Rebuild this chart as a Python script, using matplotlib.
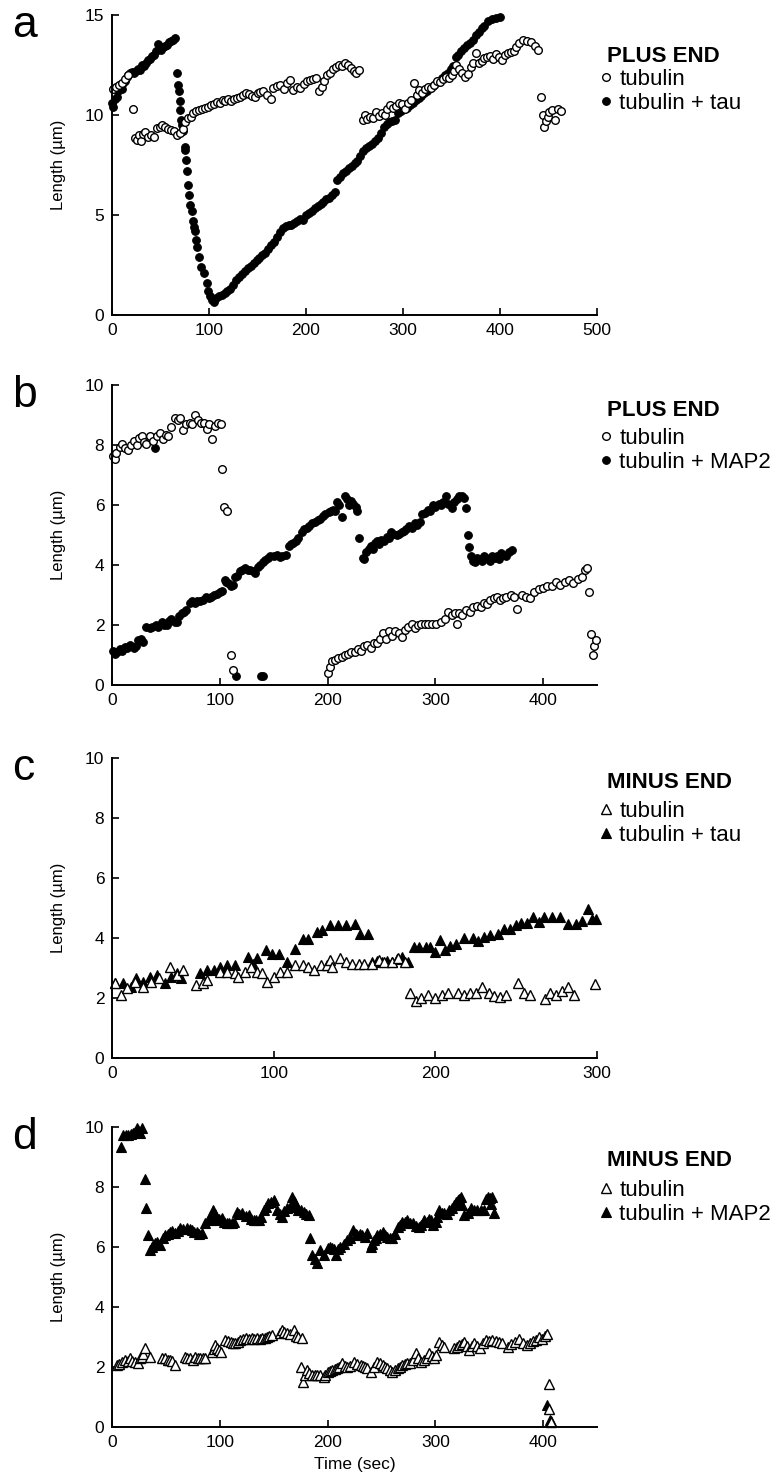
import matplotlib
matplotlib.use("Agg")
import matplotlib.pyplot as plt

plt.rcParams['font.family'] = ['Liberation Sans', 'DejaVu Sans']

# ---------------- panel a : plus end, tubulin vs tubulin + tau ----------------
a_tub_t = [1, 4, 7, 10, 13, 16, 22, 24, 26, 28, 30, 32, 34, 37, 40, 43, 46, 49, 52, 55,
           58, 61, 64, 67, 70, 73, 75, 78, 81, 84, 87, 90, 93, 96, 99, 102, 105, 108, 111, 114,
           117, 120, 123, 126, 129, 132, 135, 138, 141, 144, 147, 150, 153, 156, 160, 164, 166, 170, 173, 177,
           180, 184, 187, 191, 194, 198, 201, 204, 207, 210, 213, 216, 219, 222, 225, 228, 231, 234, 237, 240,
           243, 246, 249, 252, 255,
           259, 261, 263, 266, 269, 272, 275, 278, 281, 284, 287, 290, 293, 296, 299, 302, 305, 308, 311, 314,
           317, 320, 323, 326, 329, 332, 335, 338, 341, 344, 347, 350, 353, 355, 358, 361, 364, 367, 370, 372,
           375, 378, 381, 384, 387, 390, 393, 396, 399, 402, 405, 408, 411, 414, 417, 420, 424, 428, 432, 436,
           439,
           442, 444, 445, 447, 449, 451, 454, 457, 460, 463]
a_tub_L = [11.3, 11.4, 11.5, 11.6, 11.8, 12.0, 10.3, 8.85, 8.75, 9.0, 8.7, 9.05, 9.15, 8.9, 9.0, 8.9, 9.35, 9.4, 9.5, 9.4,
           9.3, 9.25, 9.2, 9.0, 9.1, 9.3, 9.65, 9.85, 9.9, 10.1, 10.2, 10.25, 10.3, 10.35, 10.4, 10.5, 10.55, 10.65, 10.6, 10.75,
           10.7, 10.8, 10.7, 10.8, 10.85, 10.9, 11.0, 11.1, 11.05, 10.95, 10.9, 11.1, 11.15, 11.2, 11.0, 10.8, 11.35, 11.45, 11.5, 11.3,
           11.6, 11.75, 11.25, 11.4, 11.35, 11.55, 11.7, 11.75, 11.8, 11.85, 11.2, 11.4, 11.7, 12.0, 12.1, 12.3, 12.4, 12.5, 12.45, 12.6,
           12.5, 12.35, 12.2, 12.1, 12.25,
           9.75, 10.0, 9.8, 9.9, 9.85, 10.15, 9.95, 10.1, 10.0, 10.3, 10.5, 10.35, 10.45, 10.6, 10.55, 10.3, 10.6, 10.75, 11.6, 11.0,
           11.25, 11.1, 11.3, 11.4, 11.35, 11.5, 11.7, 11.65, 11.8, 11.9, 11.85, 12.0, 12.2, 12.5, 12.3, 12.1, 11.9, 12.05, 12.4, 12.6,
           13.1, 12.6, 12.7, 12.85, 12.9, 12.95, 12.8, 13.05, 12.9, 12.75, 13.0, 13.1, 13.15, 13.2, 13.4, 13.6, 13.75, 13.7, 13.65, 13.45,
           13.25,
           10.9, 10.0, 9.4, 9.7, 9.9, 10.15, 10.25, 9.75, 10.3, 10.2]

a_tau_t = [0, 1.5, 3, 5, 6.5, 8, 10, 11.5, 13, 15, 17, 19, 21, 23, 25, 27, 29, 31, 33, 35,
           37, 39, 41, 43, 45, 47, 49, 51, 53, 55, 57, 59, 61, 63, 65,
           67.5, 68.5, 69.5, 70, 70.5, 71, 72, 73, 75, 75.5, 76.5, 77.5, 78.5, 79.5, 80.5, 82, 84, 85, 85.5, 86.5,
           88, 89.5, 92, 94.5, 97.5, 99, 101, 103, 105,
           107, 110, 113, 116, 119, 122, 125, 128, 131, 134, 137, 140, 143, 146, 149, 152, 155, 158, 161, 164,
           167, 170, 173, 176, 179, 182, 185, 188, 191, 194, 197, 200, 203, 206, 209, 212, 215, 218, 221, 224,
           227, 230, 232, 235, 238, 241, 244, 247, 250, 253, 256, 259, 262, 265, 268, 271, 274, 277, 280, 283,
           286, 289, 292, 295, 298, 301, 304, 307, 310, 313, 316, 319, 322, 325, 328, 331, 334, 337, 340, 343,
           346, 349, 352, 355, 357, 360, 363, 366, 369, 372, 375, 378, 381, 384, 388, 392, 396, 400]
a_tau_L = [10.6, 10.4, 10.8, 10.9, 11.2, 11.4, 11.3, 11.6, 11.7, 11.9, 12.0, 12.1, 12.15, 12.1, 12.2, 12.3, 12.25, 12.5, 12.45, 12.6,
           12.75, 12.8, 12.95, 13.0, 13.2, 13.55, 13.3, 13.25, 13.4, 13.45, 13.5, 13.65, 13.7, 13.75, 13.85,
           12.1, 11.5, 11.2, 10.7, 10.25, 9.75, 9.5, 9.2, 8.4, 8.25, 7.75, 7.2, 6.5, 6.0, 5.5, 5.2, 4.7, 4.4, 4.2, 3.75,
           3.4, 2.9, 2.4, 2.1, 1.6, 1.2, 0.95, 0.75, 0.65,
           0.85, 0.95, 1.0, 1.1, 1.2, 1.3, 1.5, 1.75, 1.9, 2.05, 2.2, 2.35, 2.45, 2.6, 2.75, 2.85, 3.0, 3.1, 3.3, 3.5,
           3.65, 3.9, 4.15, 4.35, 4.45, 4.5, 4.5, 4.6, 4.7, 4.8, 4.75, 5.0, 5.1, 5.2, 5.35, 5.45, 5.55, 5.65, 5.8, 5.85,
           6.0, 6.15, 6.75, 6.9, 7.1, 7.2, 7.35, 7.45, 7.6, 7.7, 7.95, 8.2, 8.35, 8.45, 8.55, 8.7, 8.85, 9.1, 9.4, 9.55,
           9.65, 9.7, 9.75, 10.1, 10.2, 10.3, 10.35, 10.5, 10.6, 10.75, 10.85, 10.95, 11.1, 11.2, 11.35, 11.45, 11.6, 11.7, 11.85, 12.0,
           12.1, 12.3, 12.45, 12.9, 13.0, 13.2, 13.35, 13.5, 13.6, 13.75, 14.0, 14.15, 14.35, 14.45, 14.7, 14.8, 14.85, 14.9]

# ---------------- panel b : plus end, tubulin vs tubulin + MAP2 ----------------
b_tub_t = [1, 2.5, 4, 7, 9, 12, 15, 18, 20, 23, 25, 27.5, 30, 32, 35, 38, 42, 44.5, 47.5, 50,
           52, 55, 58.5, 61, 63, 66, 69, 72, 74, 77, 80, 83, 85, 88, 90, 93, 95.5, 98.5, 101.5, 102.5,
           103.5, 107, 110, 112,
           200, 202, 204, 207, 210, 213, 216, 219, 222, 225, 228, 231, 234, 237, 240, 243, 246, 249, 251, 254,
           257, 260, 263, 266, 269, 272, 275, 278, 281, 284, 287, 290, 293, 297, 301, 305, 309, 312, 315, 318,
           320, 322, 325, 328, 332, 335, 339, 342, 345, 348, 351, 354, 357, 360, 363, 366, 370, 373, 376, 380,
           384, 388, 392, 396, 400, 404, 408, 412, 416, 420, 424, 428, 432, 436, 439, 441, 443, 444, 446, 447,
           449]
b_tub_L = [7.65, 7.55, 7.75, 7.95, 8.05, 7.9, 7.85, 8.0, 8.15, 8.0, 8.25, 8.3, 8.1, 8.05, 8.3, 8.15, 8.3, 8.4, 8.2, 8.35,
           8.3, 8.6, 8.9, 8.85, 8.9, 8.5, 8.7, 8.72, 8.7, 9.0, 8.85, 8.75, 8.75, 8.55, 8.7, 8.2, 8.65, 8.75, 8.7, 7.2,
           5.95, 5.8, 1.0, 0.5,
           0.4, 0.6, 0.8, 0.85, 0.9, 0.95, 1.0, 1.05, 1.1, 1.1, 1.2, 1.15, 1.3, 1.35, 1.25, 1.4, 1.4, 1.55, 1.75, 1.55,
           1.8, 1.65, 1.8, 1.75, 1.6, 1.85, 1.95, 2.05, 1.9, 2.0, 2.05, 2.05, 2.05, 2.05, 2.05, 2.1, 2.2, 2.45, 2.35, 2.4,
           2.05, 2.4, 2.35, 2.5, 2.45, 2.6, 2.65, 2.6, 2.75, 2.7, 2.85, 2.9, 2.95, 2.85, 2.9, 2.95, 3.0, 2.95, 2.55, 3.0,
           2.95, 2.9, 3.1, 3.2, 3.25, 3.3, 3.3, 3.45, 3.35, 3.45, 3.5, 3.4, 3.55, 3.6, 3.85, 3.9, 3.1, 1.7, 1.0, 1.3,
           1.5]

b_map_t = [1, 3, 5, 7, 9, 12, 14, 17, 20, 22, 24.5, 27, 29, 32, 35, 37, 40, 41, 43, 46,
           48, 51, 53, 55, 58, 60, 62, 65, 67, 69, 72, 74, 77, 79, 82, 84, 87, 90, 92, 95,
           97, 100, 102, 104.5, 106, 108, 110, 112, 114, 115, 116, 118.5, 121, 123.5, 126, 128, 131, 133, 135, 137,
           138, 140, 140, 142, 145, 147, 150, 153, 156, 158, 161, 164, 166, 168, 171, 173, 176, 178, 181, 183,
           186, 188, 191, 193, 196, 198, 201, 203, 205, 207, 209, 211, 213, 216, 218, 220, 222, 224, 226, 227.5,
           229, 233, 234, 236, 238, 240, 242, 244, 246, 248, 250, 252, 255, 257, 259, 261, 264, 266, 269, 271,
           273, 276, 278, 281, 283, 286, 288, 290, 293, 295, 298, 300, 303, 305, 307, 310, 312, 315, 317, 320,
           322, 325, 327, 328.5, 330, 331.5, 333, 335, 337, 339, 341, 343, 345, 347, 349, 351, 353, 355, 357, 359,
           361, 363, 366, 368, 371]
b_map_L = [1.15, 1.05, 1.1, 1.2, 1.15, 1.28, 1.25, 1.33, 1.22, 1.3, 1.5, 1.55, 1.45, 1.95, 1.9, 1.95, 7.9, 2.0, 1.95, 2.1,
           2.0, 2.0, 2.15, 2.2, 2.1, 2.1, 2.3, 2.4, 2.45, 2.5, 2.75, 2.8, 2.75, 2.8, 2.8, 2.85, 2.95, 2.9, 2.95, 3.0,
           3.05, 3.1, 3.12, 3.5, 3.45, 3.4, 3.3, 3.35, 3.6, 0.3, 3.65, 3.8, 3.85, 3.9, 3.85, 3.83, 3.8, 3.75, 3.95, 4.0,
           0.3, 0.3, 4.1, 4.17, 4.25, 4.3, 4.3, 4.33, 4.28, 4.3, 4.35, 4.65, 4.7, 4.75, 4.8, 4.9, 5.1, 5.2, 5.25, 5.3,
           5.4, 5.45, 5.5, 5.55, 5.65, 5.7, 5.78, 5.8, 5.85, 5.8, 6.1, 6.0, 5.6, 6.3, 6.2, 6.0, 6.15, 6.05, 5.95, 5.8,
           4.9, 4.25, 4.2, 4.45, 4.55, 4.65, 4.55, 4.75, 4.8, 4.7, 4.85, 4.8, 4.95, 4.9, 5.1, 5.05, 5.0, 5.05, 5.1, 5.15,
           5.2, 5.3, 5.25, 5.4, 5.35, 5.45, 5.7, 5.75, 5.85, 5.8, 6.0, 5.95, 6.05, 6.0, 6.1, 6.3, 6.05, 5.9, 6.1, 6.2,
           6.3, 6.3, 6.25, 5.9, 5.0, 4.6, 4.3, 4.15, 4.1, 4.25, 4.2, 4.15, 4.3, 4.25, 4.2, 4.15, 4.3, 4.25, 4.3, 4.2,
           4.4, 4.35, 4.3, 4.45, 4.5]

# ---------------- panel c : minus end, tubulin vs tubulin + tau ----------------
c_tub_t = [1.6, 5.4, 9, 14, 19, 24, 29, 36, 40, 43.7, 52, 56, 58.5, 67, 71, 76, 78, 82, 86, 89.5,
           93, 96, 100.5, 104, 108, 113, 118, 121.5, 125, 129, 133, 135, 136, 141, 145, 148.6, 152.5, 156, 161, 165,
           168.4, 173, 177, 181, 184.5, 188, 191, 195.6, 200, 204, 208, 214, 218, 221.5, 225, 229, 233, 236, 240, 244,
           251, 255, 258.6, 268, 271, 274.6, 278.3, 282, 285.7, 299]
c_tub_L = [2.5, 2.1, 2.33, 2.55, 2.38, 2.55, 2.66, 3.04, 2.77, 2.93, 2.44, 2.5, 2.6, 2.88, 2.88, 2.82, 2.71, 2.88, 3.04, 2.88,
           2.82, 2.55, 2.71, 2.88, 2.88, 3.1, 3.1, 3.04, 2.93, 3.1, 3.1, 3.26, 3.04, 3.32, 3.21, 3.15, 3.15, 3.15, 3.15, 3.26,
           3.21, 3.21, 3.32, 3.21, 2.16, 1.9, 2.0, 2.11, 2.0, 2.11, 2.16, 2.16, 2.11, 2.16, 2.16, 2.38, 2.16, 2.07, 2.05, 2.11,
           2.5, 2.16, 2.11, 1.98, 2.16, 2.11, 2.22, 2.38, 2.11, 2.46]

c_tau_t = [1.6, 6.6, 11.5, 15, 19, 23.4, 27.6, 32.5, 36.2, 40, 42.4, 54.7, 58.5, 63.4, 67, 71, 76, 84.4, 87, 89.5,
           95, 99, 103, 108, 113, 118, 121.5, 126.5, 130, 135, 140, 145, 150, 153.6, 158.5, 161, 164, 167, 170, 173,
           176, 179.5, 183, 187, 190, 194, 197, 200, 203, 206, 209, 213, 218, 223, 226.5, 230, 234, 239, 242.5, 246,
           250, 253, 257, 260.5, 264, 267, 272, 277, 282, 287, 291, 294.5, 297, 299.5]
c_tau_L = [2.5, 2.5, 2.38, 2.66, 2.55, 2.71, 2.77, 2.5, 2.71, 2.82, 2.66, 2.82, 2.93, 2.93, 3.04, 3.1, 3.1, 3.37, 3.15, 3.32,
           3.6, 3.48, 3.48, 3.21, 3.65, 3.98, 3.98, 4.2, 4.27, 4.42, 4.42, 4.42, 4.47, 4.14, 4.14, 3.21, 3.25, 3.21, 3.25, 3.21,
           3.3, 3.37, 3.21, 3.7, 3.7, 3.7, 3.7, 3.55, 3.95, 3.6, 3.75, 3.8, 4.0, 4.0, 3.9, 4.05, 4.1, 4.15, 4.3, 4.3,
           4.45, 4.5, 4.5, 4.7, 4.55, 4.7, 4.7, 4.7, 4.48, 4.48, 4.56, 4.97, 4.64, 4.64]

# ---------------- panel d : minus end, tubulin vs tubulin + MAP2 ----------------
d_tub_t = [4.3, 6.5, 9, 12, 14.5, 16.7, 19, 21.4, 24.5, 26, 27.6, 29, 30.7, 35, 46, 49, 51.5, 54, 56, 58.6,
           68, 70, 72.6, 75, 77, 80, 82, 84, 86.5, 92.7, 94.5, 96, 97.5, 99, 101, 105, 107.5, 110, 112, 114.4,
           116.5, 119, 121.5, 124, 127, 130, 132, 134.6, 137, 139, 141.5, 144, 146, 148.5, 156, 158, 160, 162.5, 165, 168.7,
           171, 173, 176, 175.5, 177, 179, 181, 183, 185.7, 188, 190, 193, 196.6, 198, 200, 202, 204, 207, 209, 211,
           213.6, 216, 218, 221, 224.5, 227, 230.7, 233, 235, 237, 240, 243, 246, 248.5, 251, 253, 255.5, 258, 260, 262.5,
           265, 267, 269.5, 272, 274, 276.5, 279, 282, 284, 286.5, 289.6, 292, 294, 296.5, 299, 301, 303.6, 306, 308, 317.5,
           320, 322, 325, 327, 329, 331.5, 334, 336, 338.5, 341, 344, 347, 350, 353, 356, 359, 362, 367, 370, 374,
           377.6, 381, 385, 388, 390.6, 393, 396, 399, 402, 403.8, 405, 405.6, 407.5]
d_tub_L = [2.07, 2.1, 2.18, 2.23, 2.2, 2.29, 2.2, 2.18, 2.12, 2.3, 2.34, 2.45, 2.62, 2.34, 2.29, 2.29, 2.25, 2.23, 2.2, 2.07,
           2.34, 2.3, 2.29, 2.25, 2.34, 2.3, 2.29, 2.3, 2.29, 2.51, 2.6, 2.73, 2.65, 2.57, 2.5, 2.9, 2.88, 2.84, 2.8, 2.79,
           2.85, 2.9, 2.92, 2.96, 2.95, 2.96, 2.95, 2.96, 2.95, 2.96, 2.98, 3.01, 3.05, 3.07, 3.15, 3.23, 3.18, 3.12, 3.1, 3.23,
           3.05, 3.01, 2.96, 2.01, 1.51, 1.75, 1.9, 1.8, 1.73, 1.75, 1.73, 1.73, 1.68, 1.75, 1.84, 1.88, 1.9, 1.95, 1.96, 2.0,
           2.12, 2.05, 2.01, 2.05, 2.18, 2.1, 2.07, 2.05, 2.0, 1.96, 1.84, 2.0, 2.18, 2.12, 2.07, 2.0, 1.96, 1.9, 1.84, 1.9,
           1.96, 2.0, 2.07, 2.1, 2.12, 2.15, 2.23, 2.46, 2.3, 2.18, 2.23, 2.3, 2.46, 2.38, 2.29, 2.4, 2.84, 2.72, 2.68, 2.62,
           2.68, 2.73, 2.78, 2.84, 2.7, 2.57, 2.7, 2.79, 2.7, 2.62, 2.8, 2.9, 2.88, 2.9, 2.88, 2.84, 2.8, 2.68, 2.77, 2.85,
           2.94, 2.8, 2.72, 2.8, 2.88, 2.9, 2.99, 2.95, 3.05, 3.1, 1.44, 0.61, 0.17]

d_map_t = [8, 10.5, 13, 15, 17.5, 19.8, 21.5, 23, 24.5, 26, 27.6, 30.7, 32, 33, 35, 37, 38.4, 40, 41.5, 43,
           44.7, 47, 49, 51.5, 54, 56, 58.6, 61, 63, 66, 69.5, 72, 74, 76.5, 79, 81, 83.4, 86.5, 89, 91,
           94, 95.5, 97, 99.5, 102, 104, 106.7, 109, 111, 113.5, 116, 118, 120.6, 124, 127, 129, 131.5, 134, 136, 138.5,
           141, 143, 145, 147.5, 150, 153, 155.5, 158, 160, 162.5, 165, 167, 168.5, 170, 171.5, 173, 175.5, 178, 180, 182.6,
           184, 185.7, 188, 190, 193, 196.6, 200, 202, 204, 206, 208, 210, 212, 215, 218, 221, 224, 226, 227.6, 230,
           232, 234.5, 237, 240, 241.5, 243, 244.5, 246, 248.5, 251, 253, 255.5, 258, 260, 262.5, 265, 267, 269.5, 272, 274,
           276.5, 279, 282, 285, 287, 289.6, 292, 294, 296, 298, 300.5, 302, 303.6, 306, 308, 310.5, 313, 315, 317.5, 319,
           320.6, 322, 323.7, 325, 327, 330, 333, 336, 339, 342, 345.4, 347, 348.5, 350.5, 352, 353, 354.7, 404, 406, 407]
d_map_L = [9.34, 9.73, 9.75, 9.73, 9.78, 9.79, 9.85, 9.96, 9.9, 9.79, 9.96, 8.26, 7.29, 6.4, 5.9, 6.0, 6.07, 6.15, 6.18, 6.1,
           6.07, 6.3, 6.4, 6.45, 6.5, 6.55, 6.46, 6.55, 6.62, 6.6, 6.62, 6.6, 6.57, 6.5, 6.5, 6.45, 6.46, 6.79, 6.9, 7.01,
           7.23, 7.1, 6.9, 6.95, 6.96, 6.85, 6.79, 6.8, 6.79, 6.85, 7.18, 7.1, 7.12, 7.05, 7.07, 6.95, 6.9, 6.9, 6.9, 7.0,
           7.23, 7.35, 7.46, 7.5, 7.57, 7.23, 7.1, 7.01, 7.2, 7.29, 7.35, 7.68, 7.55, 7.46, 7.35, 7.23, 7.25, 7.18, 7.1, 7.07,
           6.29, 5.73, 5.6, 5.46, 5.9, 5.73, 5.96, 6.0, 5.96, 5.95, 5.73, 5.95, 6.01, 6.1, 6.23, 6.3, 6.57, 6.45, 6.4, 6.45,
           6.4, 6.35, 6.46, 6.01, 6.1, 6.23, 6.3, 6.4, 6.45, 6.5, 6.4, 6.34, 6.3, 6.29, 6.45, 6.68, 6.75, 6.84, 6.85, 6.9,
           6.8, 6.79, 6.7, 6.68, 6.75, 6.9, 6.85, 6.95, 6.9, 6.75, 6.84, 7.0, 7.23, 7.15, 7.12, 7.1, 7.23, 7.3, 7.4, 7.5,
           7.57, 7.6, 7.68, 7.4, 7.07, 7.15, 7.29, 7.25, 7.23, 7.25, 7.23, 7.6, 7.68, 7.65, 7.45, 7.68, 7.12, 0.75, 0.25, 0.2]

W, H = 782, 1483
fig = plt.figure(figsize=(W / 100, H / 100), dpi=100, facecolor='white')

# name, axes top (px), xmax, xticks, ymax, yticks, legend title, labels, marker
panels = [
    ('a', 15, 500, [0, 100, 200, 300, 400, 500], 15, [0, 5, 10, 15], 'PLUS END',
     ['tubulin', 'tubulin + tau'], 'o', (a_tub_t, a_tub_L), (a_tau_t, a_tau_L), (42, 66)),
    ('b', 385, 450, [0, 100, 200, 300, 400], 10, [0, 2, 4, 6, 8, 10], 'PLUS END',
     ['tubulin', 'tubulin + MAP2'], 'o', (b_tub_t, b_tub_L), (b_map_t, b_map_L), (25, 55)),
    ('c', 758, 300, [0, 100, 200, 300], 10, [0, 2, 4, 6, 8, 10], 'MINUS END',
     ['tubulin', 'tubulin + tau'], '^', (c_tub_t, c_tub_L), (c_tau_t, c_tau_L), (25, 55)),
    ('d', 1127, 450, [0, 100, 200, 300, 400], 10, [0, 2, 4, 6, 8, 10], 'MINUS END',
     ['tubulin', 'tubulin + MAP2'], '^', (d_tub_t, d_tub_L), (d_map_t, d_map_L), (33, 65)),
]

left, width, height = 112, 485, 300

for letter, top, xmax, xticks, ymax, yticks, title, labels, mk, open_s, fill_s, leg in panels:
    ax = fig.add_axes([left / W, 1 - (top + height) / H, width / W, height / H])
    ms = 5.5 if mk == 'o' else 6.5
    h_fill, = ax.plot(fill_s[0], fill_s[1], mk, ls='none', ms=ms, color='black',
                      mew=0.8, clip_on=False)
    h_open, = ax.plot(open_s[0], open_s[1], mk, ls='none', ms=ms, mfc='white',
                      mec='black', mew=1.0, clip_on=False)

    ax.set_xlim(0, xmax)
    ax.set_ylim(0, ymax)
    ax.set_xticks(xticks)
    ax.set_yticks(yticks)
    ax.spines[['top', 'right']].set_visible(False)
    ax.spines[['left', 'bottom']].set_linewidth(1.4)
    ax.tick_params(direction='in', length=5, width=1.2, labelsize=12.5, pad=5.5)
    ax.set_ylabel('Length (µm)', fontsize=12)
    ax.yaxis.set_label_coords(-0.095, 0.5)

    # legend block on the right
    ax.text(1.02, 1 - leg[0] / height, title, transform=ax.transAxes, fontsize=16,
            fontweight='bold', ha='left', va='center')
    ax.legend([h_open, h_fill], labels, loc='upper left',
              bbox_to_anchor=(1.0, 1 - (leg[1] - 12.4) / height), frameon=False,
              fontsize=16, handlelength=0.8, handletextpad=0.2, borderpad=0,
              borderaxespad=0, labelspacing=0.15)

    fig.text(12 / W, 1 - (top + 22) / H, letter, fontsize=32, va='baseline', ha='left')

    if letter == 'd':
        ax.set_xlabel('Time (sec)', fontsize=12.5)
        ax.xaxis.set_label_coords(0.5, -0.10)

fig.savefig('out.png', dpi=100, facecolor='white')
